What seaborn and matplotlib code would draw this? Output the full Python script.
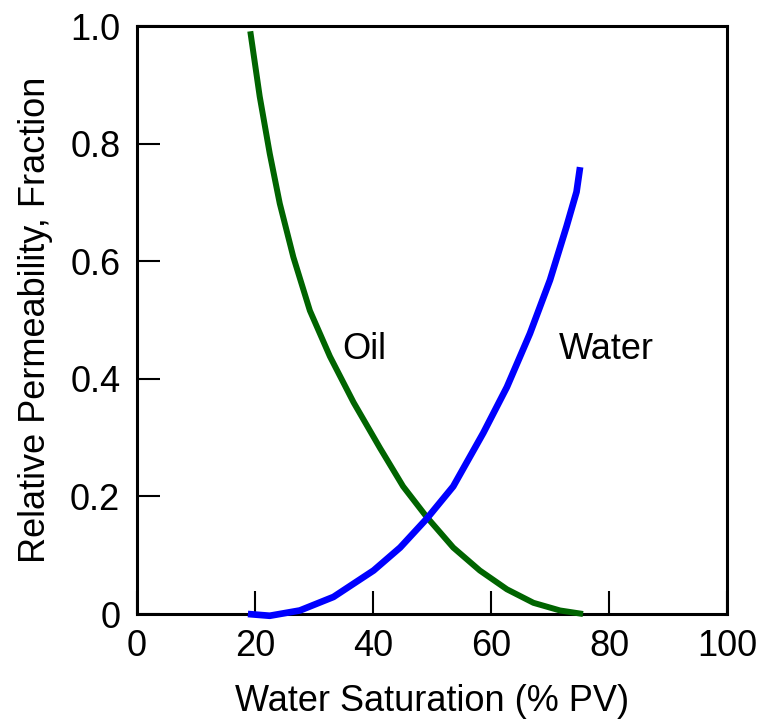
import pandas as pd
import numpy as np
import matplotlib
matplotlib.use("Agg")
import matplotlib.pyplot as plt
import seaborn as sns

# Values (water saturation in % PV, kr as fraction)
oil_sw = [19.2, 20.8, 22.5, 24.2, 26.5, 29.3, 32.7, 36.7, 41.2, 45.1, 49.1, 53.6, 58.1, 62.7, 67.2, 71.7, 75.6]
oil_kr = [0.991, 0.880, 0.783, 0.698, 0.607, 0.516, 0.438, 0.360, 0.282, 0.217, 0.165, 0.113, 0.074, 0.042, 0.019, 0.006, 0.000]

water_sw = [18.8, 22.5, 27.6, 33.3, 40.1, 44.6, 49.1, 53.6, 58.7, 62.7, 66.6, 70.0, 72.8, 74.5, 75.1]
water_kr = [0.000, -0.003, 0.006, 0.029, 0.074, 0.113, 0.162, 0.217, 0.308, 0.386, 0.477, 0.568, 0.659, 0.718, 0.760]

x_ticks = [0, 20, 40, 60, 80, 100]
y_ticks = [0, 0.2, 0.4, 0.6, 0.8, 1.0]
y_tick_labels = ["0", "0.2", "0.4", "0.6", "0.8", "1.0"]

sns.set_theme(style="white")
plt.rcParams['font.family'] = ['Liberation Sans', 'DejaVu Sans']

oil = pd.DataFrame({'sw': oil_sw, 'kr': oil_kr})
water = pd.DataFrame({'sw': water_sw, 'kr': water_kr})

fig = plt.figure(figsize=(7.68, 7.21), dpi=100)
ax = fig.add_axes([137 / 768, 1 - 614 / 721, 590 / 768, 588 / 721])

sns.lineplot(data=oil, x='sw', y='kr', sort=False, color='#006400', linewidth=4.3,
             solid_capstyle='butt', solid_joinstyle='round', ax=ax, zorder=3, clip_on=False)
sns.lineplot(data=water, x='sw', y='kr', sort=False, color='#0000ff', linewidth=4.8,
             solid_capstyle='butt', solid_joinstyle='round', ax=ax, zorder=3, clip_on=False)

ax.text(38.6, 0.449, 'Oil', fontsize=26, ha='center', va='center', color='black')
ax.text(79.5, 0.449, 'Water', fontsize=26, ha='center', va='center', color='black')

ax.set_xlim(0, 100)
ax.set_ylim(0, 1.0)
ax.set_xticks(x_ticks)
ax.set_yticks(y_ticks)
ax.set_yticklabels(y_tick_labels)
ax.tick_params(axis='both', direction='in', length=16.5, width=1.5, colors='black',
               labelsize=26, bottom=True, left=True)
ax.tick_params(axis='x', pad=11)
ax.tick_params(axis='y', pad=12)

for sp in ax.spines.values():
    sp.set_linewidth(2.2)
    sp.set_color('black')
    sp.set_zorder(2.5)

ax.set_xlabel('Water Saturation (% PV)', fontsize=26, labelpad=14, color='black')
ax.set_ylabel('Relative Permeability, Fraction', fontsize=26, labelpad=12, color='black')

fig.savefig('out.png', dpi=100)
plt.close(fig)
